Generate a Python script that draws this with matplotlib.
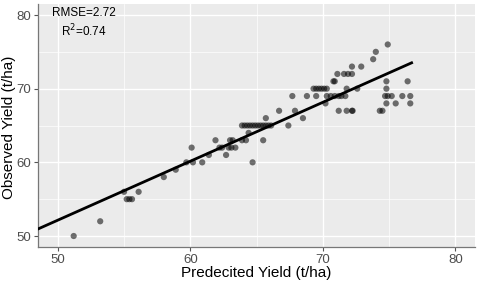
import matplotlib
matplotlib.use("Agg")
import matplotlib.pyplot as plt
import numpy as np

plt.rcParams["font.family"] = ["Liberation Sans", "DejaVu Sans"]

# predicted vs observed yield (t/ha)
predicted = [
    51.2, 53.2, 55.0, 55.2, 55.4, 55.6, 56.1, 58.0, 58.9, 59.7,
    60.1, 60.2, 60.9, 61.4, 61.9, 62.2, 62.4, 62.7, 62.9, 63.0,
    63.1, 63.2, 63.4, 63.9, 64.2, 64.4, 63.9, 64.1, 64.3, 64.5,
    64.7, 64.9, 65.1, 65.3, 65.5, 65.7, 65.9, 66.1, 64.7, 65.5,
    65.7, 66.7, 67.4, 67.7, 67.9, 68.5, 68.8, 69.5, 69.3, 69.5,
    69.7, 69.9, 70.1, 70.3, 70.2, 70.3, 70.6, 70.9, 71.2, 71.4,
    71.7, 70.8, 70.9, 71.1, 71.6, 71.9, 72.2, 71.2, 71.8, 72.2,
    72.25, 71.8, 72.6, 72.2, 72.9, 73.8, 74.0, 74.9, 74.8, 74.8,
    74.7, 74.9, 75.2, 76.0, 76.6, 76.4, 74.8, 75.5, 76.6, 74.3,
    74.5,
]
observed = [
    50, 52, 56, 55, 55, 55, 56, 58, 59, 60,
    62, 60, 60, 61, 63, 62, 62, 61, 62, 63,
    62, 63, 62, 63, 63, 64, 65, 65, 65, 65,
    65, 65, 65, 65, 65, 65, 65, 65, 60, 63,
    66, 67, 65, 69, 67, 66, 69, 69, 70, 70,
    70, 70, 70, 70, 68, 69, 69, 69, 69, 69,
    69, 71, 71, 72, 72, 72, 72, 67, 67, 67,
    67, 70, 70, 73, 73, 74, 75, 76, 71, 70,
    69, 69, 69, 69, 69, 71, 68, 68, 68, 67,
    67,
]

# fitted line
fit_intercept = 12.15
fit_slope = 0.80
fit_range = [48.5, 76.7]

rmse_text = "RMSE=2.72\nR$^2$=0.74"

fig = plt.figure(figsize=(4.8, 2.83), dpi=100)
ax = fig.add_axes([0.079, 0.127, 0.911, 0.859])
ax.set_facecolor("#EBEBEB")

ax.set_xlim(48.5, 81.5)
ax.set_ylim(48.5, 81.5)
ax.set_xticks([50, 60, 70, 80])
ax.set_yticks([50, 60, 70, 80])
ax.set_xticks([55, 65, 75], minor=True)
ax.set_yticks([55, 65, 75], minor=True)
ax.grid(True, which="major", color="white", linewidth=1.0)
ax.grid(True, which="minor", color="white", linewidth=0.5)
ax.set_axisbelow(True)
ax.tick_params(which="minor", length=0)
ax.tick_params(which="major", color="#555555", length=3, width=0.8,
               labelsize=9.5, labelcolor="#4D4D4D", pad=2)

for side in ("top", "right"):
    ax.spines[side].set_visible(False)
for side in ("left", "bottom"):
    ax.spines[side].set_color("#777777")
    ax.spines[side].set_linewidth(0.9)

ax.scatter(predicted, observed, s=20, color="black", alpha=0.55,
           edgecolors="none", zorder=3)

xs = np.array(fit_range)
ax.plot(xs, fit_intercept + fit_slope * xs, color="black", linewidth=2, zorder=4)

ax.text(52.0, 78.9, rmse_text, ha="center", va="center", fontsize=8.5,
        linespacing=1.3)

# axis titles placed by hand so nothing is clipped
fig.text(0.5 * (182 + 330) / 480, 0.035, "Predecited Yield (t/ha)",
         ha="center", va="center", fontsize=11)
fig.text(9 / 480, 0.55, "Observed Yield (t/ha)", rotation=90,
         ha="center", va="center", fontsize=11)

fig.savefig("out.png", dpi=100)
